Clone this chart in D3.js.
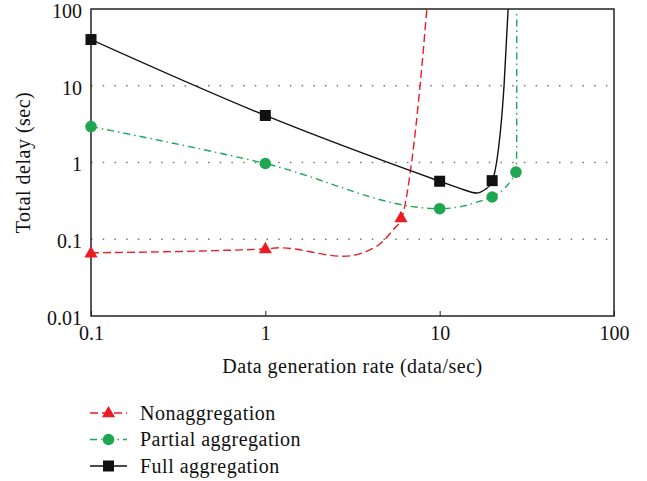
<!DOCTYPE html>
<html lang="en">
<head>
<meta charset="UTF-8">
<title>Total delay</title>
<style>
  body { margin: 0; background: #fff; }
  svg text { font-family: "Liberation Serif", "DejaVu Serif", serif; fill: #111; }
  .lbl { letter-spacing: 0.5px; }
</style>
</head>
<body>
<svg width="647" height="481"></svg>
<script src="https://d3js.org/d3.v7.min.js"></script>
<script>
// series names
var seriesNames = ['Nonaggregation', 'Partial aggregation', 'Full aggregation'];

// marker positions (rate, delay)
var nonX = [0.1, 1, 6];
var nonY = [0.066, 0.075, 0.19];
var partX = [0.1, 1, 10, 20, 27.4];
var partY = [2.94, 0.97, 0.25, 0.355, 0.75];
var fullX = [0.1, 1, 10, 20];
var fullY = [40, 4.1, 0.57, 0.58];

// curve points
var nonCurveX = [0.1, 0.5, 1, 1.21, 2.8, 4.35, 5.42, 6.06, 6.9, 7.72, 8.44];
var nonCurveY = [0.0666, 0.071, 0.075, 0.0774, 0.06, 0.081, 0.134, 0.19, 1, 10, 100];
var partCurveX = [0.1, 1, 10, 13.6, 17, 20, 23.2, 25.9, 27.4, 27.65, 27.7];
var partCurveY = [2.94, 0.97, 0.25, 0.27, 0.313, 0.355, 0.445, 0.6, 0.75, 1.35, 100];
var fullCurveX = [0.1, 1, 10, 13.6, 16.3, 18.2, 19.9, 20.2, 21.2, 23.4, 24.7];
var fullCurveY = [40, 4.1, 0.57, 0.445, 0.40, 0.445, 0.545, 0.6, 1, 10, 100];

// ticks
var xTicks = [0.1, 1, 10, 100];
var yTicks = [0.01, 0.1, 1, 10, 100];
var gridY = [0.1, 1, 10];

var fontSize = 20;
var margin = {top: 9, left: 91, right: 33, bottom: 165};
var svg = d3.select('svg');
var width = +svg.attr('width') - margin.left - margin.right;
var height = +svg.attr('height') - margin.top - margin.bottom;

var x = d3.scaleLog().domain([0.1, 100]).range([0, width]);
var y = d3.scaleLog().domain([0.01, 100]).range([height, 0]);

var g = svg.append('g').attr('transform', `translate(${margin.left},${margin.top})`);

var fmt = d => String(d);

// grid
g.selectAll('.grid').data(gridY).enter().append('line')
  .attr('x1', 0).attr('x2', width)
  .attr('y1', d => y(d)).attr('y2', d => y(d))
  .attr('stroke', '#777').attr('stroke-width', 1.3)
  .attr('stroke-dasharray', '1.5,10.2');

// x axis
var xAxis = d3.axisBottom(x).tickValues(xTicks).tickFormat(fmt)
  .tickSizeInner(-5).tickSizeOuter(0).tickPadding(10);
var xg = g.append('g').attr('transform', `translate(0,${height})`).call(xAxis);
xg.select('.domain').remove();
xg.selectAll('.tick line').attr('stroke', '#222');
xg.selectAll('text').attr('font-size', fontSize).attr('fill', '#111');

// y axis labels
var yAxis = d3.axisLeft(y).tickValues(yTicks).tickFormat(fmt).tickSize(0).tickPadding(9);
var yg = g.append('g').call(yAxis);
yg.select('.domain').remove();
yg.selectAll('text').attr('font-size', fontSize).attr('fill', '#111').attr('dy', '0.42em');

// frame
g.append('rect').attr('width', width).attr('height', height)
  .attr('fill', 'none').attr('stroke', '#222').attr('stroke-width', 1.5);

// titles
svg.append('text').attr('class', 'lbl').attr('x', margin.left + width / 2).attr('y', 373)
  .attr('text-anchor', 'middle').attr('font-size', fontSize)
  .text('Data generation rate (data/sec)');
svg.append('text').attr('class', 'lbl').attr('transform', `translate(30,${margin.top + height / 2}) rotate(-90)`)
  .attr('text-anchor', 'middle').attr('font-size', fontSize)
  .text('Total delay (sec)');

var series = [
  {name: seriesNames[0], cx: nonCurveX, cy: nonCurveY, mx: nonX, my: nonY, color: '#ec1c24', dash: '8,4', shape: 'tri'},
  {name: seriesNames[1], cx: partCurveX, cy: partCurveY, mx: partX, my: partY, color: '#1fa651', dash: '7,4,1.5,4', shape: 'circ'},
  {name: seriesNames[2], cx: fullCurveX, cy: fullCurveY, mx: fullX, my: fullY, color: '#111', dash: null, shape: 'sq'}
];

var line = d3.line().x(d => d[0]).y(d => d[1]).curve(d3.curveMonotoneX);

function drawMarker(sel, shape, color) {
  if (shape === 'tri') {
    sel.append('path').attr('d', d3.symbol(d3.symbolTriangle, 75)()).attr('fill', color)
      .attr('transform', 'translate(0,0.5)');
  } else if (shape === 'circ') {
    sel.append('circle').attr('r', 5.8).attr('fill', color);
  } else {
    sel.append('rect').attr('x', -5.5).attr('y', -5.5).attr('width', 11).attr('height', 11)
      .attr('fill', color);
  }
}

var plot = g.append('g');
plot.append('clipPath').attr('id', 'clip').append('rect')
  .attr('width', width).attr('height', height);

series.forEach(function(s) {
  var pts = s.cx.map((v, i) => [x(v), y(s.cy[i])]);
  plot.append('path').attr('d', line(pts)).attr('fill', 'none')
    .attr('clip-path', 'url(#clip)')
    .attr('stroke', s.color).attr('stroke-width', 1.4)
    .attr('stroke-dasharray', s.dash);
});

series.forEach(function(s) {
  s.mx.forEach(function(v, i) {
    var m = plot.append('g').attr('transform', `translate(${x(v)},${y(s.my[i])})`);
    drawMarker(m, s.shape, s.color);
  });
});

// legend
var legendY = [413, 439.5, 466];
series.forEach(function(s, i) {
  var lg = svg.append('g').attr('transform', `translate(90,${legendY[i]})`);
  lg.append('line').attr('x1', 0).attr('x2', 37).attr('y1', 0).attr('y2', 0)
    .attr('stroke', s.color).attr('stroke-width', 1.4)
    .attr('stroke-dasharray', s.dash);
  var m = lg.append('g').attr('transform', 'translate(18.5,0)');
  drawMarker(m, s.shape, s.color);
  lg.append('text').attr('class', 'lbl').attr('x', 50).attr('y', 0).attr('dy', '0.33em')
    .attr('font-size', fontSize).text(s.name);
});
</script>
</body>
</html>
